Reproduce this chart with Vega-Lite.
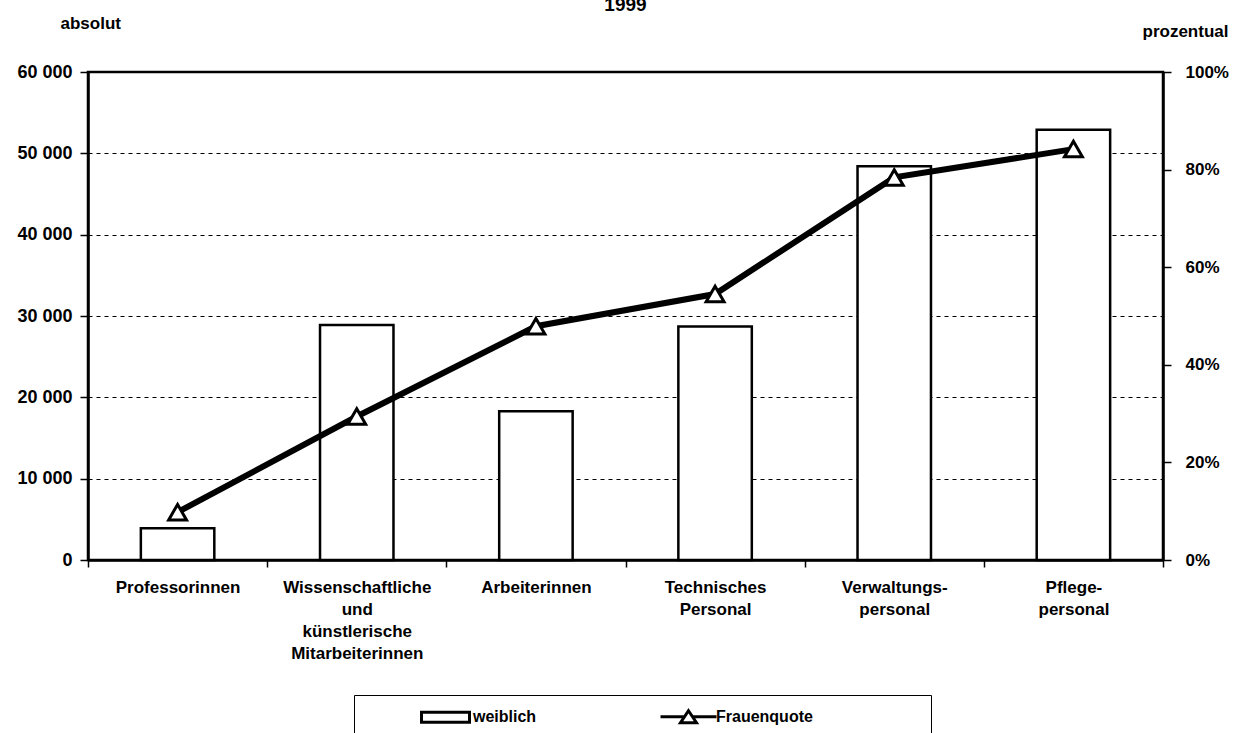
{
  "$schema": "https://vega.github.io/schema/vega-lite/v6.json",
  "width": 1075,
  "height": 488,
  "autosize": {"type": "none"},
  "padding": {"left": 88, "top": 72, "right": 77, "bottom": 173},
  "background": "white",
  "config": {
    "font": "Liberation Sans",
    "view": {"stroke": "black", "strokeWidth": 2.5},
    "axis": {
      "domainColor": "black", "domainWidth": 2.5,
      "tickColor": "black", "tickWidth": 1.5, "tickSize": 8,
      "labelColor": "black", "labelFontSize": 17, "labelFontWeight": "bold",
      "titleColor": "black", "titleFontSize": 17, "titleFontWeight": "bold"
    }
  },
  "title": {"text": "1999", "fontSize": 19, "fontWeight": "bold", "anchor": "middle", "frame": "group", "baseline": "alphabetic", "offset": 4, "dy": 20, "color": "black"},
  "data": {
    "values": [
      {"cat": "Professorinnen", "weiblich": 3900, "quote": 9.8},
      {"cat": "Wissenschaftliche|und|künstlerische|Mitarbeiterinnen", "weiblich": 28900, "quote": 29.4},
      {"cat": "Arbeiterinnen", "weiblich": 18300, "quote": 47.9},
      {"cat": "Technisches|Personal", "weiblich": 28700, "quote": 54.5},
      {"cat": "Verwaltungs-|personal", "weiblich": 48400, "quote": 78.4},
      {"cat": "Pflege-|personal", "weiblich": 52900, "quote": 84.2}
    ]
  },
  "encoding": {
    "x": {
      "field": "cat", "type": "nominal", "sort": null,
      "scale": {"paddingInner": 0, "paddingOuter": 0},
      "axis": {"title": null, "labelAngle": 0, "labelExpr": "split(datum.label, '|')", "labelBaseline": "top", "labelPadding": 12, "labelLineHeight": 22, "tickBand": "extent", "tickSize": 7, "labelFontSize": 17}
    }
  },
  "layer": [
    {
      "mark": {"type": "bar", "fill": "white", "stroke": "black", "strokeWidth": 2.5, "width": {"band": 0.41}},
      "encoding": {
        "y": {
          "field": "weiblich", "type": "quantitative",
          "scale": {"domain": [0, 60000], "nice": false},
          "axis": {
            "title": "absolut", "titleAngle": 0, "titleAlign": "left", "titleBaseline": "alphabetic", "titleX": -28, "titleY": -44,
            "values": [0, 10000, 20000, 30000, 40000, 50000, 60000],
            "grid": true, "gridColor": "black", "gridDash": [4, 4], "gridWidth": 1.2,
            "labelPadding": 8, "labelFontSize": 18,
            "labelExpr": "replace(format(datum.value, ','), ',', ' ')"
          }
        }
      }
    },
    {
      "encoding": {
        "y": {
          "field": "quote", "type": "quantitative",
          "scale": {"domain": [0, 100], "nice": false},
          "axis": {
            "orient": "right", "title": "prozentual", "titleAngle": 0, "titleAlign": "left", "titleBaseline": "alphabetic", "titleX": -21, "titleY": -36,
            "values": [0, 20, 40, 60, 80, 100], "grid": false, "labelPadding": 14,
            "labelExpr": "datum.value + '%'"
          }
        }
      },
      "layer": [
        {"mark": {"type": "line", "color": "black", "strokeWidth": 6}},
        {
          "mark": {"type": "point", "shape": "triangle-up", "filled": true, "fill": "white", "stroke": "black", "strokeWidth": 3, "size": 320, "opacity": 1}
        },
        {
          "mark": {"type": "point", "opacity": 0},
          "encoding": {
            "shape": {
              "datum": "Frauenquote", "type": "nominal",
              "scale": {"domain": ["weiblich", "Frauenquote"], "range": ["M-2.4,-0.5H2.4V0.5H-2.4Z", "M-2.8,0H-0.45M0.45,0H2.8M0,-0.6L0.8,0.6H-0.8Z"]},
              "legend": {
                "title": null, "orient": "none", "legendX": 266, "legendY": 623, "direction": "horizontal",
                "strokeColor": "black", "padding": 10, "symbolSize": 400, "symbolOffset": 70, "labelOffset": 16, "columnPadding": 70,
                "symbolOpacity": 1, "symbolFillColor": "white", "symbolStrokeColor": "black", "symbolStrokeWidth": 3,
                "labelFontSize": 16, "labelFontWeight": "bold", "labelColor": "black", "labelLimit": 500,
                "labelExpr": "datum.label == 'Frauenquote' ? datum.label + '\u2800\u2800\u2800\u2800\u2800\u2800\u2800\u2800\u2800' : datum.label"
              }
            }
          }
        }
      ]
    }
  ],
  "resolve": {"scale": {"y": "independent"}}
}
